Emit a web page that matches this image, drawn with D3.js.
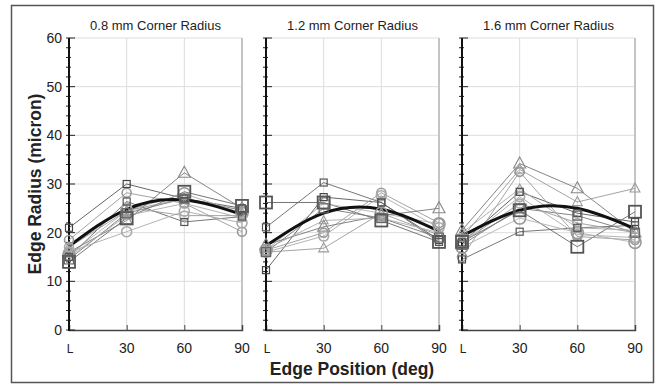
<!DOCTYPE html>
<html><head><meta charset="utf-8">
<script src="https://cdn.jsdelivr.net/npm/d3@7"></script>
<style>body{margin:0;background:#fff}svg{display:block}text{font-family:"Liberation Sans",Arial,sans-serif}</style>
</head><body><svg id="c" width="659" height="385"></svg>
<script>
// ---- data ----
const panelTitles = ["0.8 mm Corner Radius", "1.2 mm Corner Radius", "1.6 mm Corner Radius"];
const positions = [0, 30, 60, 90];
const positionLabels = ["L", "30", "60", "90"];
const yTicks = [0, 10, 20, 30, 40, 50, 60];

// each series: [L, 30, 60, 90]
const p1Squares   = [[21, 30, 27, 25], [15, 26.4, 22.2, 23.3], [14, 23, 28.4, 25.5], [14.5, 24, 27, 24.6]];
const p1Circles   = [[18.5, 28.2, 26, 20.2], [16, 20.2, 24.4, 22], [15.5, 24.5, 28, 24], [17, 25.2, 23.5, 23.5]];
const p1Triangles = [[16, 22.5, 32.3, 25], [17, 24.5, 27, 24], [15, 23.5, 26, 23]];
const p1Fit       = [17.2, 24.8, 26.7, 23.7];

const p2Squares   = [[12.3, 27.3, 26.2, 18.5], [21.1, 30.3, 26.2, 18.1], [26.2, 26.2, 22.5, 18.1], [16, 25, 23, 19]];
const p2Circles   = [[16.4, 20, 28.2, 22], [16, 19.3, 27.6, 21], [16.4, 26, 24, 21.8]];
const p2Triangles = [[17.5, 21.2, 23.5, 25], [16, 16.8, 24, 19.5], [16.6, 22.5, 23, 20]];
const p2Fit       = [17.3, 24.0, 24.8, 20.3];

const p3Squares   = [[18, 28.4, 24, 22.2], [14.5, 20.2, 21, 21.5], [18.1, 24.6, 17.1, 24.3], [17.5, 25, 23.5, 20]];
const p3Circles   = [[15, 32.5, 19.2, 18.5], [18, 27.4, 19.6, 19], [17, 23, 20, 18], [18, 26, 22, 20]];
const p3Triangles = [[20.5, 34.2, 29.1, 20], [19, 33, 26.3, 29.1], [20, 29, 21, 20.5]];
const p3Fit       = [19.3, 24.6, 25.0, 20.8];

const panels = [
  {sq: p1Squares, ci: p1Circles, tr: p1Triangles, fit: p1Fit},
  {sq: p2Squares, ci: p2Circles, tr: p2Triangles, fit: p2Fit},
  {sq: p3Squares, ci: p3Circles, tr: p3Triangles, fit: p3Fit}
];

// ---- layout ----
const svg = d3.select("#c");
svg.append("rect").attr("x", 11.5).attr("y", 5.5).attr("width", 642).attr("height", 377)
  .attr("fill", "none").attr("stroke", "#555").attr("stroke-width", 1.5);

const lefts = [69, 266, 462];
const pw = 173, plotTop = 38, plotBottom = 330;
const y = d3.scaleLinear().domain([0, 60]).range([plotBottom, plotTop]);

const sqStyles = [{c:"#444", s:7, lc:"#555"}, {c:"#555", s:7, lc:"#666"}, {c:"#555", s:12, lc:"#666"}, {c:"#666", s:9, lc:"#777"}];
const ciStyles = [{c:"#999", r:4.5, lc:"#999"}, {c:"#aaa", r:5, lc:"#aaa"}, {c:"#999", r:6, lc:"#b0b0b0"}, {c:"#aaa", r:4.5, lc:"#999"}];
const trStyles = [{c:"#888", s:11, lc:"#777"}, {c:"#999", s:9, lc:"#999"}, {c:"#999", s:8, lc:"#aaa"}];

panels.forEach((p, i) => {
  const x = d3.scaleLinear().domain([0, 90]).range([lefts[i], lefts[i] + pw]);
  const g = svg.append("g");
  // grid
  g.selectAll(".gy").data(yTicks.filter(v => v > 0)).join("line")
    .attr("x1", x(0)).attr("x2", x(90)).attr("y1", d => y(d)).attr("y2", d => y(d))
    .attr("stroke", "#ddd").attr("stroke-width", 1);
  g.selectAll(".gx").data([30, 60]).join("line")
    .attr("x1", d => x(d)).attr("x2", d => x(d)).attr("y1", y(0)).attr("y2", y(60))
    .attr("stroke", "#ddd").attr("stroke-width", 1);
  // right edge
  g.append("line").attr("x1", x(90)).attr("x2", x(90)).attr("y1", y(0)).attr("y2", y(60))
    .attr("stroke", "#c4c4c4").attr("stroke-width", 2);
  // bottom axis
  const xa = d3.axisBottom(x).tickValues([30, 60]).tickSize(-5).tickFormat("");
  const gx = g.append("g").attr("transform", `translate(0,${y(0)})`).call(xa);
  gx.select(".domain").attr("stroke", "#444").attr("stroke-width", 1.5);
  gx.selectAll(".tick line").attr("stroke", "#444");
  // x labels
  g.selectAll(".xl").data(positions).join("text")
    .attr("x", d => x(d) + (d === 0 ? 1 : 0)).attr("y", 353).attr("text-anchor", "middle")
    .attr("font-size", (d, j) => j === 0 ? 12 : 14).attr("fill", "#222")
    .text((d, j) => positionLabels[j]);
  // left axis
  const yMinor = d3.range(0, 61, 2);
  g.selectAll(".ym").data(yMinor).join("line")
    .attr("x1", x(0) - 3).attr("x2", d => x(0) + (d % 10 === 0 ? 6 : 2))
    .attr("y1", d => y(d)).attr("y2", d => y(d)).attr("stroke", "#222").attr("stroke-width", 1);
  g.append("line").attr("x1", x(0)).attr("x2", x(0)).attr("y1", y(0) + 1).attr("y2", y(60))
    .attr("stroke", "#111").attr("stroke-width", 2);
  if (i === 0) {
    g.selectAll(".yl").data(yTicks).join("text")
      .attr("x", 62).attr("y", d => y(d) + 5).attr("text-anchor", "end")
      .attr("font-size", 14).attr("fill", "#222").text(d => d);
  }
  // title
  g.append("text").attr("x", x(45)).attr("y", 29.5).attr("text-anchor", "middle")
    .attr("font-size", 13).attr("fill", "#222").text(panelTitles[i]);

  const line = d3.line().x((d, j) => x(positions[j])).y(d => y(d));
  const drawLines = (arr, styles) => arr.forEach((s, k) => {
    g.append("path").attr("d", line(s)).attr("fill", "none")
      .attr("stroke", styles[k % styles.length].lc).attr("stroke-width", 0.9);
  });
  drawLines(p.sq, sqStyles); drawLines(p.ci, ciStyles); drawLines(p.tr, trStyles);

  // fit
  const fitLine = d3.line().curve(d3.curveNatural).x((d, j) => x(positions[j])).y(d => y(d));
  g.append("path").attr("d", fitLine(p.fit)).attr("fill", "none")
    .attr("stroke", "#111").attr("stroke-width", 3);

  // markers
  p.tr.forEach((s, k) => {
    const st = trStyles[k % trStyles.length];
    s.forEach((v, j) => {
      const cx = x(positions[j]), cy = y(v), h = st.s;
      g.append("path").attr("d", `M${cx},${cy - h*0.6}L${cx + h*0.55},${cy + h*0.4}L${cx - h*0.55},${cy + h*0.4}Z`)
        .attr("fill", "none").attr("stroke", st.c).attr("stroke-width", 1.1);
    });
  });
  p.ci.forEach((s, k) => {
    const st = ciStyles[k % ciStyles.length];
    s.forEach((v, j) => {
      g.append("circle").attr("cx", x(positions[j])).attr("cy", y(v)).attr("r", st.r)
        .attr("fill", "none").attr("stroke", st.c).attr("stroke-width", 1.6);
    });
  });
  p.sq.forEach((s, k) => {
    const st = sqStyles[k % sqStyles.length];
    s.forEach((v, j) => {
      g.append("rect").attr("x", x(positions[j]) - st.s/2).attr("y", y(v) - st.s/2)
        .attr("width", st.s).attr("height", st.s)
        .attr("fill", "none").attr("stroke", st.c).attr("stroke-width", st.s > 10 ? 1.8 : 1.2);
    });
  });
});

// axis titles
svg.append("text").attr("transform", "translate(41,184) rotate(-90)").attr("text-anchor", "middle")
  .attr("font-size", 17.5).attr("font-weight", "bold").attr("fill", "#222").text("Edge Radius (micron)");
svg.append("text").attr("x", 352).attr("y", 375).attr("text-anchor", "middle")
  .attr("font-size", 17.5).attr("font-weight", "bold").attr("fill", "#222").text("Edge Position (deg)");
</script></body></html>
